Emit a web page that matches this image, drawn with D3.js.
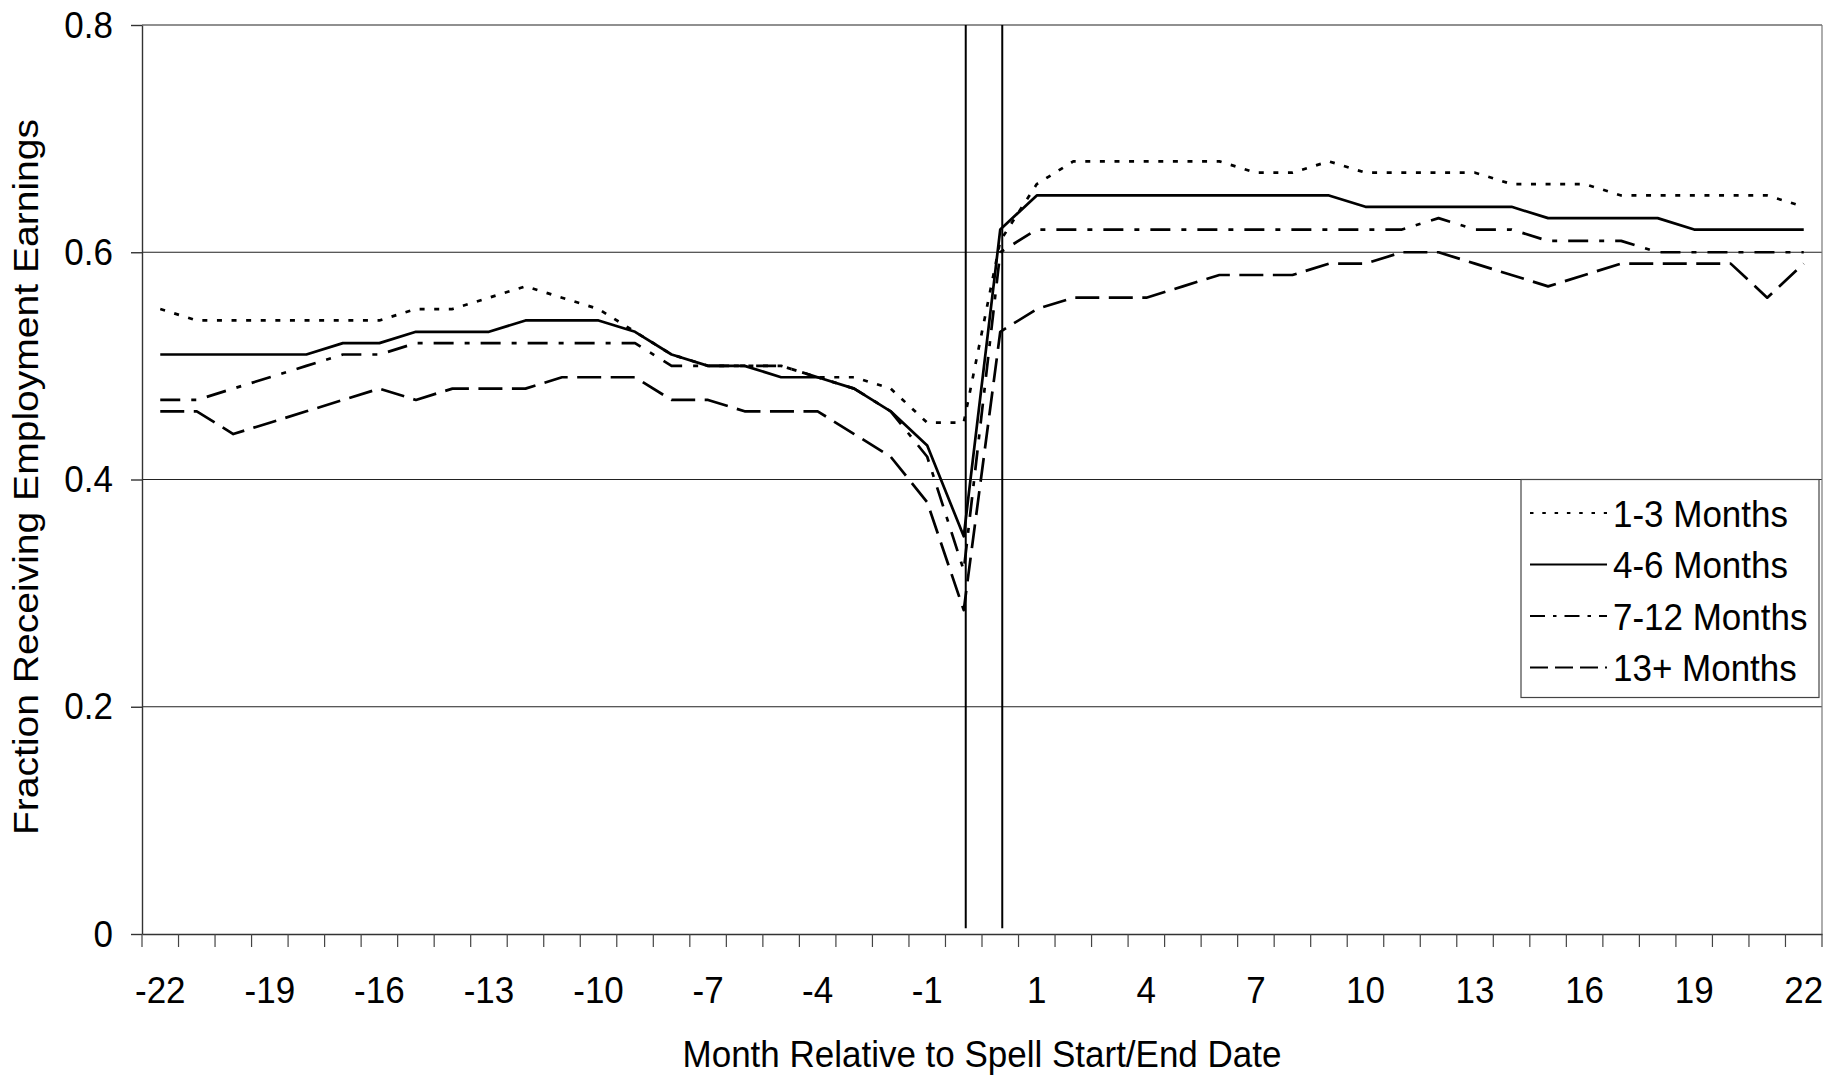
<!DOCTYPE html>
<html lang="en">
<head>
<meta charset="utf-8">
<script src="https://cdn.jsdelivr.net/npm/d3@7"></script>
<style>
  body { margin: 0; background: #fff; }
  svg text { font-family: "Liberation Sans", Arial, sans-serif; fill: #000; }
</style>
</head>
<body>
<div id="chart"></div>
<script>

// months relative to spell start/end ("S" = start month, "E" = end month)
const months = ["-22","-21","-20","-19","-18","-17","-16","-15","-14","-13","-12","-11",
  "-10","-9","-8","-7","-6","-5","-4","-3","-2","-1","S","E",
  "1","2","3","4","5","6","7","8","9","10","11","12","13","14","15","16","17","18","19","20","21","22"];

const seriesNames = ["1-3 Months", "4-6 Months", "7-12 Months", "13+ Months"];

const spell1to3 = [0.55,0.54,0.54,0.54,0.54,0.54,0.54,0.55,0.55,0.56,0.57,0.56,
  0.55,0.53,0.51,0.50,0.50,0.50,0.49,0.49,0.48,0.45,0.45,0.61,
  0.66,0.68,0.68,0.68,0.68,0.68,0.67,0.67,0.68,0.67,0.67,0.67,0.67,0.66,0.66,0.66,0.65,0.65,0.65,0.65,0.65,0.64];

const spell4to6 = [0.51,0.51,0.51,0.51,0.51,0.52,0.52,0.53,0.53,0.53,0.54,0.54,
  0.54,0.53,0.51,0.50,0.50,0.49,0.49,0.48,0.46,0.43,0.35,0.62,
  0.65,0.65,0.65,0.65,0.65,0.65,0.65,0.65,0.65,0.64,0.64,0.64,0.64,0.64,0.63,0.63,0.63,0.63,0.62,0.62,0.62,0.62];

const spell7to12 = [0.47,0.47,0.48,0.49,0.50,0.51,0.51,0.52,0.52,0.52,0.52,0.52,
  0.52,0.52,0.50,0.50,0.50,0.50,0.49,0.48,0.46,0.42,0.32,0.60,
  0.62,0.62,0.62,0.62,0.62,0.62,0.62,0.62,0.62,0.62,0.62,0.63,0.62,0.62,0.61,0.61,0.61,0.60,0.60,0.60,0.60,0.60];

const spell13plus = [0.46,0.46,0.44,0.45,0.46,0.47,0.48,0.47,0.48,0.48,0.48,0.49,
  0.49,0.49,0.47,0.47,0.46,0.46,0.46,0.44,0.42,0.38,0.285,0.53,
  0.55,0.56,0.56,0.56,0.57,0.58,0.58,0.58,0.59,0.59,0.60,0.60,0.59,0.58,0.57,0.58,0.59,0.59,0.59,0.59,0.56,0.59];

const yTicks = [0, 0.2, 0.4, 0.6, 0.8];
const spellMarks = ["S", "E"];

// line styles per series
const dashes = ["5,9.6", null, "20,11,5,11", "24,9.5"];
const legendDashes = ["3.5,8.8", null, "15,8,3.5,8", "18,7"];

// the original text is a little taller than wide
const stretch = 1.08;

let margin = {top: 25, right: 15, bottom: 142, left: 142},
    width = 1837 - margin.left - margin.right,
    height = 1076 - margin.top - margin.bottom;

let svg = d3.select("#chart").append("svg")
  .attr("width", 1837)
  .attr("height", 1076);

let g = svg.append("g")
  .attr("transform", "translate(" + margin.left + "," + margin.top + ")");

let x = d3.scaleBand()
  .domain(months)
  .range([0, width])
  .padding(0);

let y = d3.scaleLinear()
  .domain([0, 0.8])
  .range([height, 0]);

let cx = function(m) { return x(m) + x.bandwidth() / 2; };

// gridlines
g.selectAll(".grid")
  .data(yTicks.filter(d => d > 0))
  .enter().append("line")
  .attr("x1", 0).attr("x2", width)
  .attr("y1", d => y(d)).attr("y2", d => y(d))
  .attr("stroke", "#222")
  .attr("stroke-width", 1.1);

// right border
g.append("line")
  .attr("x1", width).attr("x2", width)
  .attr("y1", 0).attr("y2", height)
  .attr("stroke", "#777")
  .attr("stroke-width", 1.2);

// Y axis
let yAxis = g.append("g")
  .call(d3.axisLeft(y).tickValues(yTicks)
    .tickFormat(d => d === 0 ? "0" : d3.format(".1f")(d))
    .tickSize(11).tickSizeOuter(0).tickPadding(18));
yAxis.selectAll("text").style("font-size", "35px")
  .attr("transform", "scale(1," + stretch + ")");
yAxis.selectAll("line, path").attr("stroke", "#333").attr("stroke-width", 1.4);

// X axis (labels at centres, every third month)
let xAxis = g.append("g")
  .attr("transform", "translate(0," + height + ")")
  .call(d3.axisBottom(x).tickSize(0).tickSizeOuter(0).tickPadding(39.5)
    .tickFormat((d, i) => i % 3 === 0 ? d : ""));
xAxis.selectAll("text").style("font-size", "35px")
  .attr("transform", "scale(1," + stretch + ")");
xAxis.select(".domain").attr("stroke", "#333").attr("stroke-width", 1.4);

// tick marks between categories
xAxis.selectAll(".bound")
  .data(months.map(m => x(m)).concat([width]))
  .enter().append("line")
  .attr("x1", d => d).attr("x2", d => d)
  .attr("y1", 0).attr("y2", 13)
  .attr("stroke", "#444")
  .attr("stroke-width", 1.2);

// spell start / end markers
g.selectAll(".spell")
  .data(spellMarks)
  .enter().append("line")
  .attr("x1", d => cx(d) + 2).attr("x2", d => cx(d) + 2)
  .attr("y1", y(0.8)).attr("y2", y(0.005))
  .attr("stroke", "#000")
  .attr("stroke-width", 2);

// series lines
let allSeries = [spell1to3, spell4to6, spell7to12, spell13plus];
let line = d3.line()
  .x((d, i) => cx(months[i]))
  .y(d => y(d));

allSeries.forEach(function(s, k) {
  g.append("path")
    .datum(s)
    .attr("fill", "none")
    .attr("stroke", "#000")
    .attr("stroke-width", 2.7)
    .attr("stroke-linejoin", "round")
    .attr("stroke-dasharray", dashes[k])
    .attr("d", line);
});

// legend
let legend = svg.append("g");
legend.append("rect")
  .attr("x", 1521).attr("y", 479.5)
  .attr("width", 298).attr("height", 218)
  .attr("fill", "#fff")
  .attr("stroke", "#444")
  .attr("stroke-width", 1.2);

seriesNames.forEach(function(name, k) {
  let ly = 513 + k * 51.5;
  legend.append("line")
    .attr("x1", 1530).attr("x2", 1607)
    .attr("y1", ly).attr("y2", ly)
    .attr("stroke", "#000")
    .attr("stroke-width", 2)
    .attr("stroke-dasharray", legendDashes[k]);
  legend.append("text")
    .attr("transform", "translate(1613," + (ly + 12.5 * stretch) + ") scale(1," + stretch + ")")
    .style("font-size", "35px")
    .text(name);
});

// axis titles
svg.append("text")
  .attr("transform", "translate(" + (margin.left + width / 2) + ",1067) scale(1," + stretch + ")")
  .attr("text-anchor", "middle")
  .style("font-size", "35px")
  .text("Month Relative to Spell Start/End Date");

svg.append("text")
  .attr("transform", "translate(38," + 477 + ") rotate(-90)")
  .attr("text-anchor", "middle")
  .attr("textLength", 716)
  .attr("lengthAdjust", "spacingAndGlyphs")
  .style("font-size", "35px")
  .text("Fraction Receiving Employment Earnings");

</script>
</body>
</html>
